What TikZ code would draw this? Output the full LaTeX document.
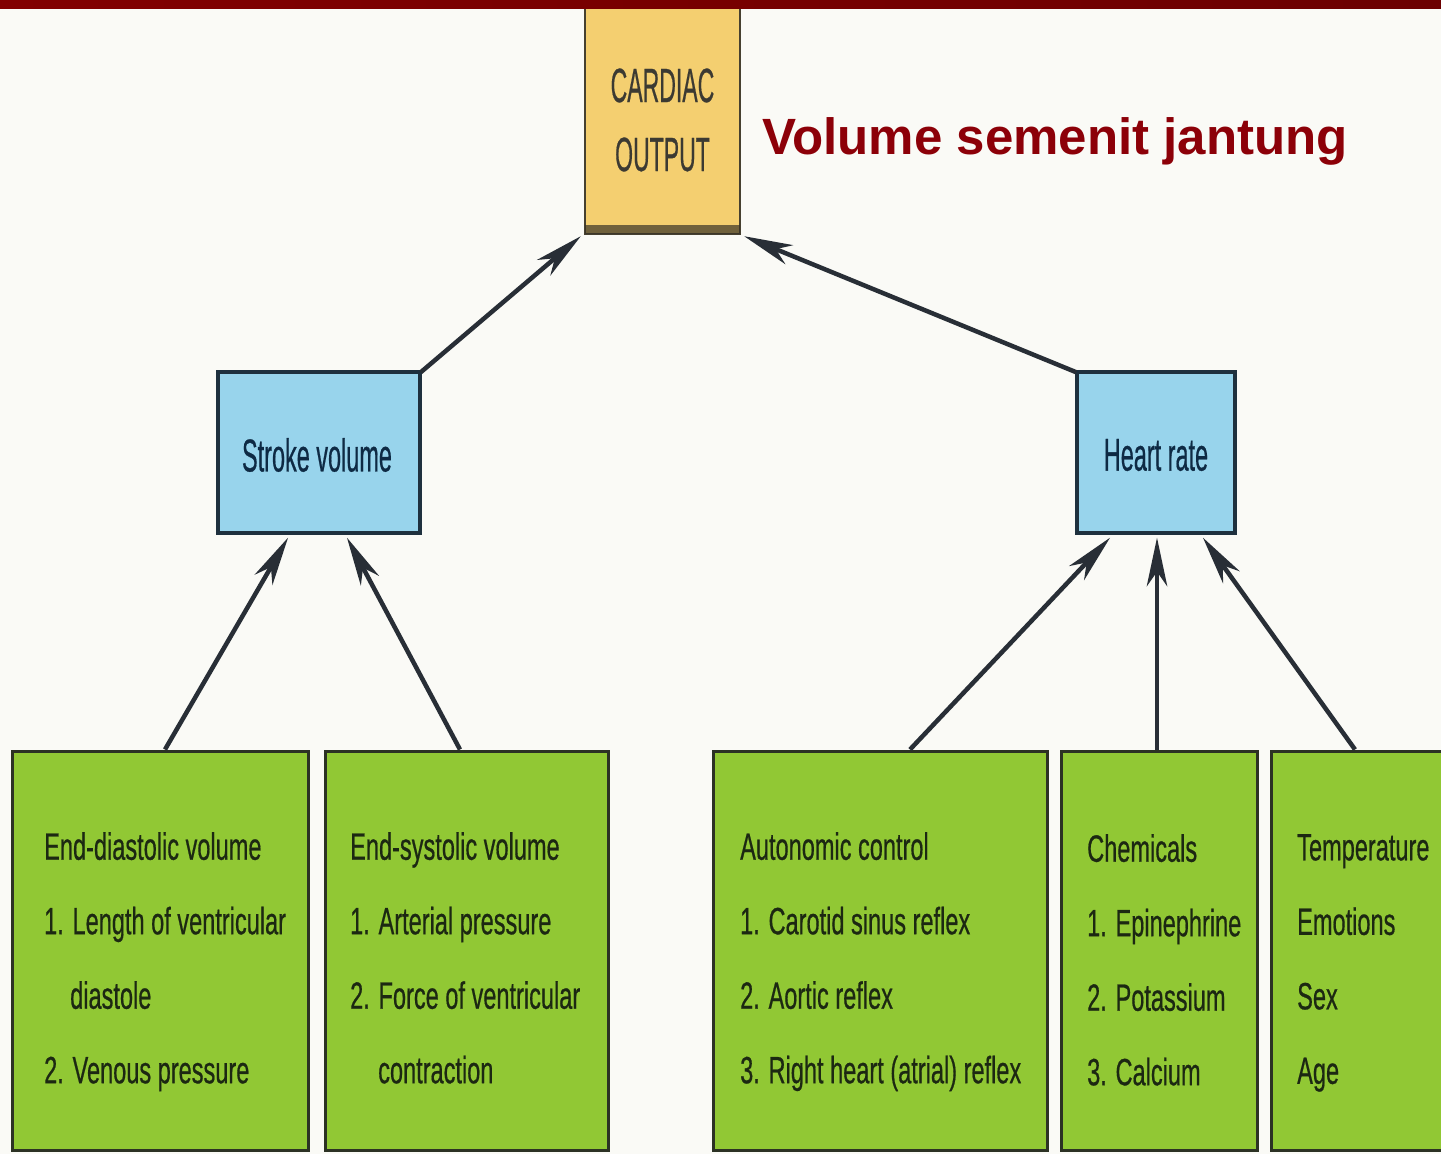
\documentclass[tikz,border=0pt]{standalone}
\usepackage{fontspec}
\setmainfont{Liberation Sans}
\newfontfamily\heavyf[FakeBold=0.7]{Liberation Sans}
\usetikzlibrary{calc}
\definecolor{barred}{RGB}{130,0,0}
\definecolor{barredb}{RGB}{108,0,0}
\definecolor{bgcol}{RGB}{250,250,246}
\definecolor{titlered}{RGB}{140,0,8}
\definecolor{cofill}{RGB}{244,207,112}
\definecolor{coline}{RGB}{70,64,48}
\definecolor{bluefill}{RGB}{152,212,236}
\definecolor{blueline}{RGB}{30,48,62}
\definecolor{greenfill}{RGB}{145,200,52}
\definecolor{greenline}{RGB}{44,50,36}
\definecolor{arrcol}{RGB}{40,46,54}
\definecolor{gtext}{RGB}{28,40,18}
\definecolor{btext}{RGB}{14,42,68}
\definecolor{ctext}{RGB}{60,58,50}
\newcommand\sqz[1]{\scalebox{0.62}[1]{#1}}
\newcommand\sqb[1]{\scalebox{0.51}[1]{#1}}
\newcommand\sqc[1]{\scalebox{0.48}[1]{#1}}
% connector from #1 to #2 with a barbed head at #2
\newcommand\arrowconn[2]{%
  \draw[arrline] (#1) -- ($(#2)!28pt!(#1)$);
  \fill[arrcol] (#2) -- ($(#2)!50pt!12:(#1)$) -- ($(#2)!34pt!(#1)$) -- ($(#2)!50pt!-12:(#1)$) -- cycle;}
\begin{document}
\begin{tikzpicture}[x=1pt,y=-1pt,
  cobox/.style={draw=coline, line width=2.5pt, fill=cofill, inner sep=0pt},
  bluebox/.style={draw=blueline, line width=3.5pt, fill=bluefill, inner sep=0pt},
  greenbox/.style={draw=greenline, line width=3pt, fill=greenfill, inner sep=0pt},
  gtxt/.style={anchor=north west, inner sep=0pt, align=left, text=gtext,
    font=\heavyf\fontsize{38}{74.5}\selectfont},
  arrline/.style={draw=arrcol, line width=4.5pt}
]
\clip (0,0) rectangle (1441,1154);
\fill[bgcol] (0,0) rectangle (1441,1154);

% cardiac output box
\node[cobox, minimum width=155pt, minimum height=230pt] (co) at (662.5,119) {};
\draw[coline!80!black, line width=9pt, opacity=0.7] ([xshift=1pt,yshift=6pt]co.south west) -- ([xshift=-1pt,yshift=6pt]co.south east);
\node[text=ctext, font=\heavyf\fontsize{48}{50}\selectfont, anchor=base] (cot1) at (662.5,102) {\sqc{CARDIAC}};
\node[text=ctext, font=\heavyf\fontsize{48}{50}\selectfont, anchor=base] (cot2) at (662.5,171) {\sqc{OUTPUT}};

% top bar
\shade[left color=barred, right color=barredb] (0,0) rectangle (1441,8);

% title
\node[text=titlered, font=\fontsize{51}{60}\selectfont\bfseries, anchor=base west, inner sep=0pt] (title) at (762,154) {Volume semenit jantung};

% blue boxes
\node[bluebox, minimum width=202pt, minimum height=161pt] (sv) at (319,452.5) {};
\node[text=btext, font=\heavyf\fontsize{46}{50}\selectfont] (svt) at (317,455) {\sqb{Stroke volume}};
\node[bluebox, minimum width=158pt, minimum height=161pt] (hr) at (1156,452.5) {};
\node[text=btext, font=\heavyf\fontsize{46}{50}\selectfont] (hrt) at (1156,455) {\sqb{Heart rate}};

% green boxes
\node[greenbox, minimum width=296pt, minimum height=399pt] (g1) at (160,950.5) {};
\node[greenbox, minimum width=283pt, minimum height=399pt] (g2) at (466.5,950.5) {};
\node[greenbox, minimum width=334pt, minimum height=399pt] (g3) at (880,950.5) {};
\node[greenbox, minimum width=196pt, minimum height=399pt] (g4) at (1159,950.5) {};
\node[greenbox, minimum width=200pt, minimum height=399pt] (g5) at (1371,950.5) {};

\node[gtxt] (t1) at (44,832) {\sqz{End-diastolic volume}\\ \sqz{1. Length of ventricular}\\ \hspace*{26pt}\sqz{diastole}\\ \sqz{2. Venous pressure}};
\node[gtxt] (t2) at (350,832) {\sqz{End-systolic volume}\\ \sqz{1. Arterial pressure}\\ \sqz{2. Force of ventricular}\\ \hspace*{28pt}\sqz{contraction}};
\node[gtxt] (t3) at (740,832) {\sqz{Autonomic control}\\ \sqz{1. Carotid sinus reflex}\\ \sqz{2. Aortic reflex}\\ \sqz{3. Right heart (atrial) reflex}};
\node[gtxt] (t4) at (1087,834) {\sqz{Chemicals}\\ \sqz{1. Epinephrine}\\ \sqz{2. Potassium}\\ \sqz{3. Calcium}};
\node[gtxt] (t5) at (1297,834) {\sqz{Temperature}\\ \sqz{Emotions}\\ \sqz{Sex}\\ \sqz{Age}};

% connector end points
\coordinate (a1s) at ([xshift=-1pt,yshift=-2pt]sv.north east);
\coordinate (a1e) at ([xshift=-3pt,yshift=-1pt]co.south west);
\coordinate (a2s) at ([xshift=1pt,yshift=-2pt]hr.north west);
\coordinate (a2e) at ([xshift=3pt,yshift=-1pt]co.south east);
\coordinate (a3s) at ([xshift=5pt]g1.north);
\coordinate (a3e) at ([xshift=-31pt,yshift=-3pt]sv.south);
\coordinate (a4s) at ([xshift=-6.5pt]g2.north);
\coordinate (a4e) at ([xshift=28pt,yshift=-3pt]sv.south);
\coordinate (a5s) at ([xshift=30pt]g3.north);
\coordinate (a5e) at ([xshift=-46pt,yshift=-3pt]hr.south);
\coordinate (a6s) at ([xshift=-2pt]g4.north);
\coordinate (a6e) at ([xshift=1pt,yshift=-3pt]hr.south);
\coordinate (a7s) at ([xshift=-16pt]g5.north);
\coordinate (a7e) at ([xshift=47pt,yshift=-3pt]hr.south);

% connectors
\arrowconn{a1s}{a1e}
\arrowconn{a2s}{a2e}
\arrowconn{a3s}{a3e}
\arrowconn{a4s}{a4e}
\arrowconn{a5s}{a5e}
\arrowconn{a6s}{a6e}
\arrowconn{a7s}{a7e}
\end{tikzpicture}
\end{document}
